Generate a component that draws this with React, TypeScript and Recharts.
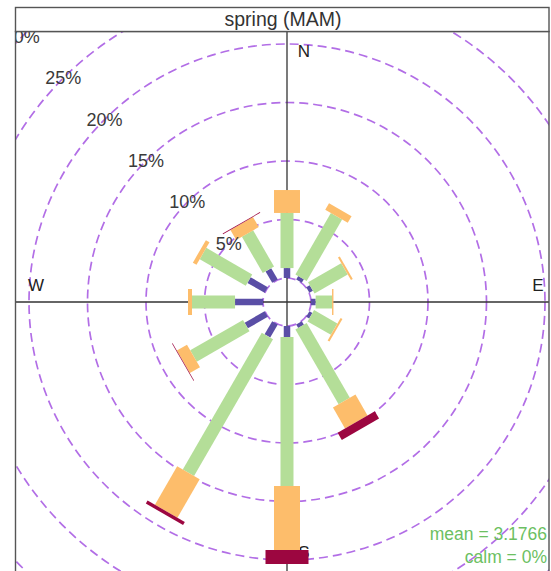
import React from 'react';
import { ScatterChart, XAxis, YAxis, Scatter, ReferenceArea } from 'recharts';

// Wind directions (degrees clockwise from north)
const directions = [0, 30, 60, 90, 120, 150, 180, 210, 240, 270, 300, 330];

// Frequency (%) of each wind-speed band per direction
const band1 = [0.85, 0.35, 0.35, 0.4, 0.3, 0.35, 0.94, 1.3, 1.97, 2.39, 1.7, 1.13];
const band2 = [4.71, 6.06, 3.27, 1.4, 2.3, 7.38, 12.74, 13.5, 5.21, 3.68, 4.54, 3.57];
const band3 = [1.96, 0.65, 0.18, 0.12, 0.18, 2.06, 5.47, 3.8, 1.0, 0.34, 0.36, 1.0];
const band4 = [0, 0, 0, 0, 0, 0.71, 1.19, 0.3, 0.06, 0, 0, 0.06];

// Frequency rings and their labels
const ringPercents = [0, 5, 10, 15, 20, 25, 30];
const ringLabels = ['5%', '10%', '15%', '20%', '25%', '30%'];
const ringLabelPercents = [5, 10, 15, 20, 25, 30];

const compassLabels = ['N', 'E', 'S', 'W'];
const compassAngles = [0, 90, 180, 270];

const panelTitle = 'spring (MAM)';
const meanText = 'mean = 3.1766';
const calmText = 'calm = 0%';

// Layout / style constants
const W = 551;
const H = 571;
const OFFSET = 2.05; // empty centre radius, in % units
const X_DOMAIN: [number, number] = [-23.162, 22.393];
const Y_DOMAIN: [number, number] = [-22.991, 23.162];
const bands = [band1, band2, band3, band4];
const bandColors = ['#5a4ea6', '#b4de98', '#fdbd6b', '#9c0640'];
const bandWidths = [6.5, 13, 26, 43];
const FONT = '"Liberation Sans", Arial, Helvetica, sans-serif';
const RING_COLOR = '#b26ee6';
const AXIS_COLOR = '#333';

const rad = (deg: number) => (deg * Math.PI) / 180;
const toXY = (deg: number, r: number) => ({
  x: r * Math.sin(rad(deg)),
  y: r * Math.cos(rad(deg)),
});

// Stacked paddles: each band starts where the previous one ended
const paddles = bands
  .map((band, b) =>
    directions.map((deg, i) => {
      let start = OFFSET;
      for (let k = 0; k < b; k++) start += bands[k][i];
      const end = start + band[i];
      return { key: `${b}-${deg}`, band: b, deg, value: band[i], from: toXY(deg, start), to: toXY(deg, end) };
    })
  )
  .flat()
  .filter((p) => p.value > 0);

const ringLabelData = ringLabelPercents.map((p, i) => ({
  ...toXY(315, p + OFFSET),
  label: ringLabels[i],
}));

const compassData = compassLabels.map((label, i) => {
  const deg = compassAngles[i];
  const base = toXY(deg, 21.45);
  const vertical = deg === 0 || deg === 180;
  return {
    x: base.x + (vertical ? 1.45 : 0),
    y: base.y + (vertical ? 0 : 1.4),
    label,
  };
});

const RingLabel = (props: any) => (
  <text
    x={props.cx}
    y={props.cy}
    textAnchor="middle"
    dominantBaseline="central"
    fontSize={18}
    fontFamily={FONT}
    fill="#3a3a3a"
  >
    {props.payload.label}
  </text>
);

// Compass letter centred in a tiny reference box
const compassShape = (label: string) => (props: any) => (
  <text
    x={props.x + props.width / 2}
    y={props.y + props.height / 2}
    textAnchor="middle"
    dominantBaseline="central"
    fontSize={17}
    fontFamily={FONT}
    fill="#222"
  >
    {label}
  </text>
);

const Ring = (props: any) => (
  <ellipse
    cx={props.x + props.width / 2}
    cy={props.y + props.height / 2}
    rx={Math.abs(props.width) / 2}
    ry={Math.abs(props.height) / 2}
    fill="none"
    stroke={RING_COLOR}
    strokeWidth={1.7}
    strokeDasharray="9 5"
    clipPath={props.clipPath}
  />
);

const VerticalAxisLine = (props: any) => (
  <line
    x1={props.x + props.width / 2}
    x2={props.x + props.width / 2}
    y1={props.y}
    y2={props.y + props.height}
    stroke={AXIS_COLOR}
    strokeWidth={1.3}
  />
);

const HorizontalAxisLine = (props: any) => (
  <line
    x1={props.x}
    x2={props.x + props.width}
    y1={props.y + props.height / 2}
    y2={props.y + props.height / 2}
    stroke={AXIS_COLOR}
    strokeWidth={1.3}
  />
);

// A paddle spans the box between its inner and outer end points;
// the direction tells which corners those ends are.
const paddleShape = (deg: number, color: string, width: number) => (props: any) => {
  const s = Math.sin(rad(deg));
  const c = Math.cos(rad(deg));
  const xIn = s >= 0 ? props.x : props.x + props.width;
  const xOut = s >= 0 ? props.x + props.width : props.x;
  const yIn = c >= 0 ? props.y + props.height : props.y;
  const yOut = c >= 0 ? props.y : props.y + props.height;
  return (
    <line
      x1={xIn}
      y1={yIn}
      x2={xOut}
      y2={yOut}
      stroke={color}
      strokeWidth={width}
      strokeLinecap="butt"
    />
  );
};

export default function App() {
  return (
    <div style={{ position: 'absolute', left: 0, top: 0, width: W, height: H, background: '#fff' }}>
      <ScatterChart width={W} height={H} margin={{ top: 31, right: 2, bottom: 0, left: 16 }}>
        <XAxis type="number" dataKey="x" domain={X_DOMAIN} allowDataOverflow hide />
        <YAxis type="number" dataKey="y" domain={Y_DOMAIN} allowDataOverflow hide />
        {ringPercents.map((p) => (
          <ReferenceArea
            key={`ring-${p}`}
            x1={-(p + OFFSET)}
            x2={p + OFFSET}
            y1={-(p + OFFSET)}
            y2={p + OFFSET}
            ifOverflow="hidden"
            shape={Ring}
          />
        ))}
        {compassData.map((c) => (
          <ReferenceArea
            key={`compass-${c.label}`}
            x1={c.x - 0.01}
            x2={c.x + 0.01}
            y1={c.y - 0.01}
            y2={c.y + 0.01}
            ifOverflow="visible"
            shape={compassShape(c.label)}
          />
        ))}
        <ReferenceArea x1={0} x2={0} ifOverflow="visible" shape={VerticalAxisLine} />
        <ReferenceArea y1={0} y2={0} ifOverflow="visible" shape={HorizontalAxisLine} />
        {paddles.map((p) => (
          <ReferenceArea
            key={p.key}
            x1={p.from.x}
            x2={p.to.x}
            y1={p.from.y}
            y2={p.to.y}
            ifOverflow="visible"
            shape={paddleShape(p.deg, bandColors[p.band], bandWidths[p.band])}
          />
        ))}
        <Scatter data={ringLabelData} shape={RingLabel} isAnimationActive={false} />
      </ScatterChart>
      <svg
        width={W}
        height={H}
        style={{ position: 'absolute', left: 0, top: 0, pointerEvents: 'none' }}
      >
        <rect x={15.5} y={31.5} width={533.5} height={560} fill="none" stroke="#555" strokeWidth={1.4} />
        <rect x={15.5} y={7.5} width={533.5} height={24} fill="#fff" stroke="#555" strokeWidth={1.4} />
        <text x={283} y={26} textAnchor="middle" fontSize={19.5} fontFamily={FONT} fill="#333">
          {panelTitle}
        </text>
        <text x={547} y={540} textAnchor="end" fontSize={17.5} fontFamily={FONT} fill="#6cbf62">
          {meanText}
        </text>
        <text x={547} y={563} textAnchor="end" fontSize={17.5} fontFamily={FONT} fill="#6cbf62">
          {calmText}
        </text>
      </svg>
    </div>
  );
}
